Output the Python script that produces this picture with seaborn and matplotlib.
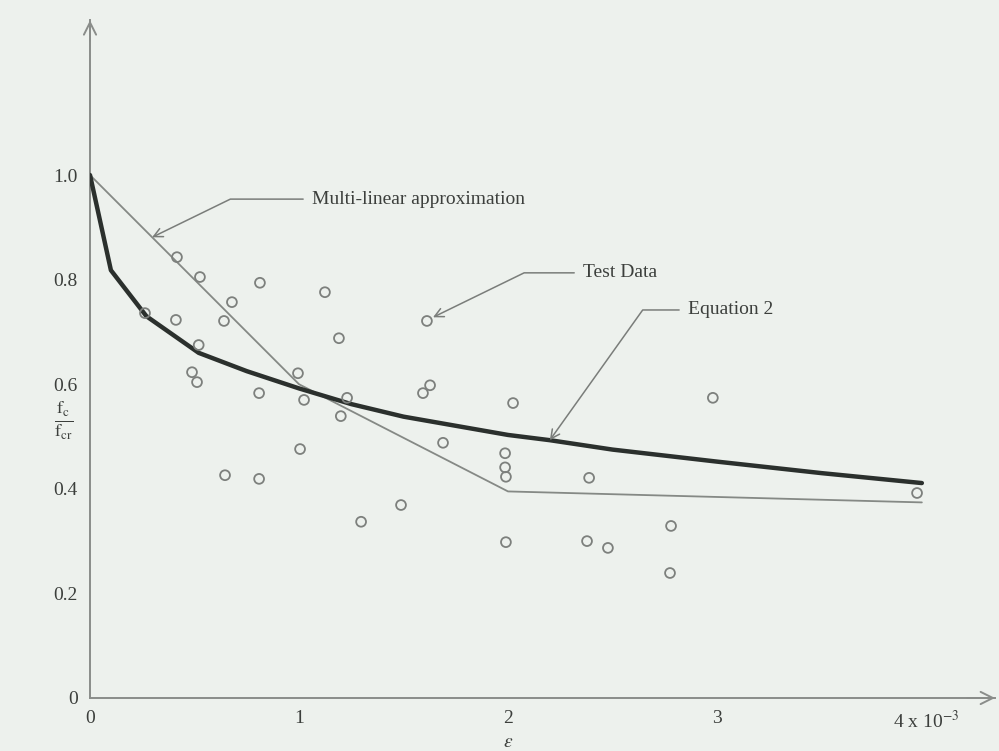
import numpy as np
import pandas as pd
import matplotlib
matplotlib.use("Agg")
import matplotlib.pyplot as plt
import seaborn as sns

# Test data: strain (x 10^-3) and normalised stress f_c / f_cr
test_strain = [0.416, 0.526, 0.813, 1.124, 0.679, 0.263, 0.411, 0.641, 0.520,
               0.488, 0.512, 0.995, 0.809, 1.024, 1.191, 1.612, 1.627, 1.593,
               1.230, 2.024, 1.200, 1.005, 0.646, 0.809, 1.297, 1.488, 1.689,
               1.986, 1.986, 1.990, 2.388, 2.980, 3.957, 2.780, 1.990, 2.378,
               2.478, 2.775]
test_stress = [0.843, 0.805, 0.794, 0.776, 0.757, 0.736, 0.723, 0.721, 0.675,
               0.623, 0.604, 0.621, 0.583, 0.570, 0.688, 0.721, 0.598, 0.583,
               0.574, 0.564, 0.539, 0.476, 0.426, 0.419, 0.337, 0.369, 0.488,
               0.468, 0.441, 0.423, 0.421, 0.574, 0.392, 0.329, 0.298, 0.300,
               0.287, 0.239]

# Equation 2 curve
eq2_strain = [0.0, 0.10, 0.27, 0.52, 0.75, 1.00, 1.25, 1.50, 2.00, 2.20, 2.50,
              3.00, 3.50, 3.98]
eq2_stress = [1.0, 0.818, 0.730, 0.660, 0.625, 0.592, 0.562, 0.538, 0.503,
              0.493, 0.475, 0.452, 0.430, 0.411]

# Multi-linear approximation
ml_strain = [0.0, 1.0, 2.0, 3.98]
ml_stress = [1.0, 0.600, 0.395, 0.374]

x_ticks = [0, 1, 2, 3, 4]
x_tick_labels = ["0", "1", "2", "3", "4 x 10$^{-3}$"]
y_ticks = [0, 0.2, 0.4, 0.6, 0.8, 1.0]
y_tick_labels = ["0", "0.2", "0.4", "0.6", "0.8", "1.0"]

sns.set_theme(style="white")
plt.rcParams["font.family"] = ["Liberation Serif", "DejaVu Serif"]
plt.rcParams["mathtext.fontset"] = "stix"

bg = "#edf1ed"
axis_col = "#8a8d8a"
text_col = "#3c3f3c"

fig = plt.figure(figsize=(9.99, 7.51), dpi=100, facecolor=bg)
ax = fig.add_axes([0.0901, 0.0706, 0.9059, 0.9024])
ax.set_facecolor(bg)

test_df = pd.DataFrame({"strain": test_strain, "stress": test_stress})
eq2_df = pd.DataFrame({"strain": eq2_strain, "stress": eq2_stress})
ml_df = pd.DataFrame({"strain": ml_strain, "stress": ml_stress})

sns.lineplot(data=ml_df, x="strain", y="stress", ax=ax, color="#858985",
             linewidth=1.3, sort=False, zorder=2)
sns.lineplot(data=eq2_df, x="strain", y="stress", ax=ax, color="#2b302d",
             linewidth=3.2, sort=False, zorder=3)
sns.scatterplot(data=test_df, x="strain", y="stress", ax=ax, marker="o",
                s=50, facecolor="none", edgecolor="#7d807d", linewidth=1.3,
                zorder=4)

ax.set_xlim(0, 4.33)
ax.set_ylim(0, 1.296)

for side in ("top", "right"):
    ax.spines[side].set_visible(False)
for side in ("left", "bottom"):
    ax.spines[side].set_color(axis_col)
    ax.spines[side].set_linewidth(1.4)

# axis arrowheads
ax.annotate("", xy=(1.0, 0.0), xytext=(0.97, 0.0), xycoords="axes fraction",
            arrowprops=dict(arrowstyle="->", color=axis_col, lw=1.4,
                            mutation_scale=22, shrinkA=0, shrinkB=0))
ax.annotate("", xy=(0.0, 1.0), xytext=(0.0, 0.97), xycoords="axes fraction",
            arrowprops=dict(arrowstyle="->", color=axis_col, lw=1.4,
                            mutation_scale=22, shrinkA=0, shrinkB=0))

ax.set_xticks(x_ticks)
ax.set_xticklabels(x_tick_labels)
ax.set_yticks(y_ticks)
ax.set_yticklabels(y_tick_labels)
ax.tick_params(axis="x", direction="in", length=5, width=1.2, colors=axis_col,
               labelcolor=text_col, labelsize=14, pad=9)
ax.tick_params(axis="y", direction="out", length=5, width=1.2, colors=axis_col,
               labelcolor=text_col, labelsize=14, pad=4)

ax.set_xlabel("")
ax.set_ylabel("")
ax.text(2.0, -0.085, r"$\varepsilon$", ha="center", va="center",
        fontsize=14, color=text_col)
ax.text(-0.125, 0.53, r"$\frac{\mathrm{f_c}}{\mathrm{f_{cr}}}$", ha="center",
        va="center", fontsize=19, color=text_col)

# callouts
callouts = [
    ("Multi-linear approximation", (0.297, 0.881), (1.062, 0.954), 26),
    ("Test Data", (1.641, 0.728), (2.359, 0.813), 26),
    ("Equation 2", (2.200, 0.493), (2.861, 0.742), 54.5),
]
for label, tip, pos, ang in callouts:
    ax.annotate(label, xy=tip, xytext=pos, fontsize=14, color=text_col,
                ha="left", va="center",
                arrowprops=dict(arrowstyle="->", color="#7a7d7a", lw=1.1,
                                mutation_scale=16, shrinkA=4, shrinkB=0,
                                relpos=(0, 0.5),
                                connectionstyle=f"angle,angleA=0,angleB={ang},rad=0"))

fig.savefig("out.png", dpi=100, facecolor=bg)
